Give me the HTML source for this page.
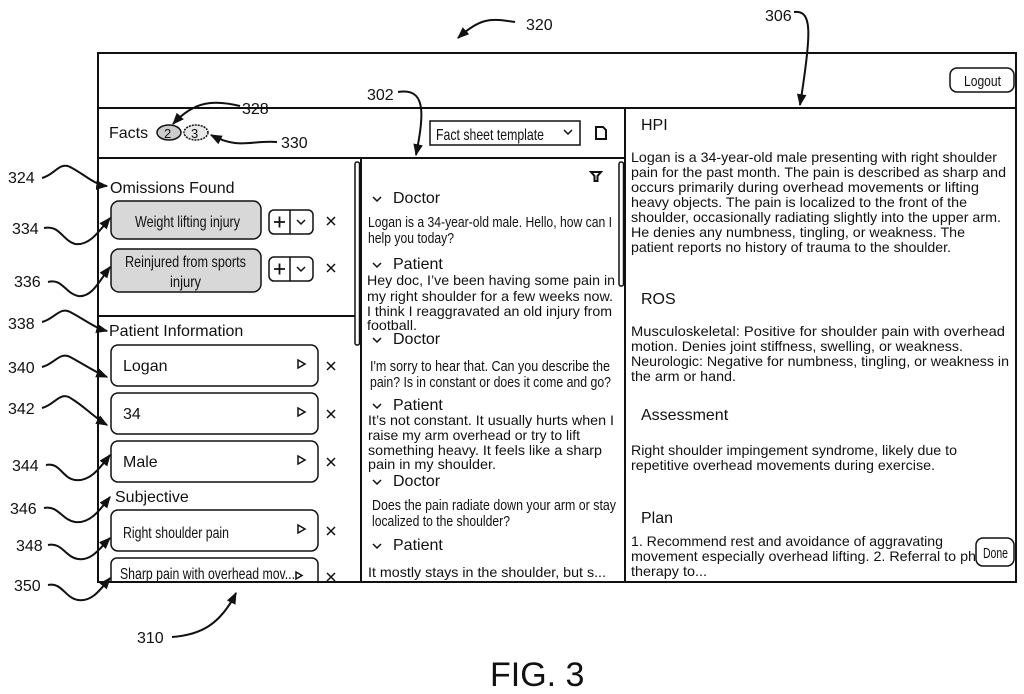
<!DOCTYPE html>
<html><head><meta charset="utf-8"><style>
html,body{margin:0;padding:0;background:#fff;width:1024px;height:694px;overflow:hidden}
svg{display:block}
text{font-family:"Liberation Sans",Arial,sans-serif;fill:#111}
.n{font-family:"Liberation Sans Narrow","Liberation Sans",sans-serif}
</style></head><body>
<svg width="1024" height="694" viewBox="0 0 1024 694" xmlns="http://www.w3.org/2000/svg">
<defs>
<marker id="a" viewBox="0 0 10 10" refX="9" refY="5" markerWidth="12" markerHeight="12" orient="auto-start-reverse" markerUnits="userSpaceOnUse"><path d="M0,1 L10,5 L0,9 z" fill="#111"/></marker>
</defs>
<g fill="none" stroke="#111" stroke-width="2">
<rect x="98" y="53" width="918" height="529"/>
<line x1="98" y1="108" x2="1016" y2="108"/>
<line x1="98" y1="158" x2="625" y2="158"/>
<line x1="625" y1="108" x2="625" y2="582"/>
<line x1="361" y1="158" x2="361" y2="582"/>
<line x1="98" y1="316" x2="355" y2="316"/>
<rect x="355" y="162" width="4.5" height="183" rx="2" stroke-width="1.5"/>
<rect x="619" y="162" width="4.5" height="124" rx="2" stroke-width="1.5"/>
<rect x="950" y="68" width="64" height="24" rx="7" stroke-width="1.5"/>
<rect x="976" y="538" width="38" height="28" rx="7" stroke-width="1.5" fill="#fff"/>
<rect x="430" y="121" width="150" height="24" stroke-width="1.5"/>
<path d="M564,130 l4,4 l4,-4" stroke-width="1.5"/>
<path d="M596,127 h7 l3,3 v9 h-10 z" stroke-width="2"/>
<path d="M591,172 h10 l-3.5,4 v5 h-3 v-5 z" stroke-width="2"/>
<ellipse cx="169" cy="132.5" rx="12" ry="7.5" fill="#ccc" stroke-width="1.5"/>
<ellipse cx="196" cy="132.5" rx="12" ry="7.5" fill="#e8e8e8" stroke-width="1.5" stroke-dasharray="2 1"/>
<rect x="111" y="201" width="150" height="38" rx="8" fill="#d8d8d8" stroke-width="1.5"/>
<rect x="111" y="249" width="150" height="43" rx="8" fill="#d8d8d8" stroke-width="1.5"/>
<rect x="269" y="210" width="44" height="24" rx="5" stroke-width="1.5"/>
<line x1="290" y1="210" x2="290" y2="234" stroke-width="1.5"/>
<rect x="269" y="257" width="44" height="24" rx="5" stroke-width="1.5"/>
<line x1="290" y1="257" x2="290" y2="281" stroke-width="1.5"/>
<path d="M274,222 h11 M279.5,216.5 v11 M274,269 h11 M279.5,263.5 v11" stroke-width="1.8"/>
<path d="M297,220 l4,4 l4,-4 M297,267 l4,4 l4,-4" stroke-width="1.5"/>
<rect x="111" y="345" width="207" height="41" rx="7" stroke-width="1.5"/>
<rect x="111" y="393" width="207" height="41" rx="7" stroke-width="1.5"/>
<rect x="111" y="441" width="207" height="41" rx="7" stroke-width="1.5"/>
<rect x="111" y="510" width="207" height="41" rx="7" stroke-width="1.5"/>
<path d="M111,582 v-18 a6,6 0 0 1 6,-6 h195 a6,6 0 0 1 6,6 v18" stroke-width="1.5"/>
<path d="M298,360 l7,4 l-7,4 z M298,408 l7,4 l-7,4 z M298,456 l7,4 l-7,4 z M298,525 l7,4 l-7,4 z M296,572 l6,3.5 l-6,3.5 z" stroke-width="1.5"/>
<path d="M327,217 l8,8 M335,217 l-8,8 M327,264 l8,8 M335,264 l-8,8 M327,362 l8,8 M335,362 l-8,8 M327,410 l8,8 M335,410 l-8,8 M327,458 l8,8 M335,458 l-8,8 M327,527 l8,8 M335,527 l-8,8 M327,573 l8,8 M335,573 l-8,8" stroke-width="1.5"/>
<g stroke-width="1.5">
<path d="M373,197 l4,4 l4,-4 M373,263 l4,4 l4,-4 M373,338 l4,4 l4,-4 M373,404 l4,4 l4,-4 M373,480 l4,4 l4,-4 M373,544 l4,4 l4,-4"/>
</g>
<path d="M515,22 C490,18 480,18 458,38" marker-end="url(#a)"/>
<path d="M794,12 C812,10 812,30 800,105" marker-end="url(#a)"/>
<path d="M398,92 C425,88 425,110 416,155" marker-end="url(#a)"/>
<path d="M240,106 C215,100 195,100 173,124" marker-end="url(#a)"/>
<line x1="268" y1="108" x2="625" y2="108"/>
<path d="M277,142 C250,140 240,150 211,135" marker-end="url(#a)"/>
<path d="M42,178 C55,175 60,160 72,168 C85,175 95,185 107,186" marker-end="url(#a)"/>
<path d="M44,228 C60,225 62,240 75,244 C90,246 100,230 110,218" marker-end="url(#a)"/>
<path d="M48,282 C62,278 65,293 78,296 C92,298 100,280 110,267" marker-end="url(#a)"/>
<path d="M42,322 C55,319 60,305 72,313 C85,320 95,328 107,331" marker-end="url(#a)"/>
<path d="M42,367 C55,364 60,350 72,358 C85,365 95,372 107,377" marker-end="url(#a)"/>
<path d="M42,408 C55,405 60,390 72,399 C85,407 95,418 107,425" marker-end="url(#a)"/>
<path d="M46,465 C60,462 62,478 75,480 C90,482 100,468 110,455" marker-end="url(#a)"/>
<path d="M44,508 C58,505 62,520 75,522 C90,524 100,510 110,497" marker-end="url(#a)"/>
<path d="M48,545 C62,542 65,557 78,559 C92,561 100,548 110,538" marker-end="url(#a)"/>
<path d="M48,585 C62,582 65,598 78,600 C92,602 100,590 110,578" marker-end="url(#a)"/>
<path d="M172,637 C200,635 220,625 236,593" marker-end="url(#a)"/>
</g>

<g font-size="16">
<text x="526" y="30">320</text>
<text x="765" y="21">306</text>
<text x="367" y="100">302</text>
<text x="242" y="114">328</text>
<text x="281" y="148">330</text>
<text x="8" y="183">324</text>
<text x="12" y="234">334</text>
<text x="14" y="287">336</text>
<text x="8" y="329">338</text>
<text x="8" y="373">340</text>
<text x="8" y="414">342</text>
<text x="12" y="471">344</text>
<text x="10" y="514">346</text>
<text x="16" y="551">348</text>
<text x="14" y="591">350</text>
<text x="137" y="643">310</text>
</g>
<text x="490" y="686" font-size="34">FIG. 3</text>

<text x="109" y="138" font-size="16">Facts</text>
<text x="164" y="138" font-size="13">2</text>
<text x="191" y="138" font-size="13">3</text>
<text x="110" y="193" font-size="16">Omissions Found</text>
<text class="n" x="135" y="227" font-size="16" textLength="105" lengthAdjust="spacingAndGlyphs">Weight lifting injury</text>
<text class="n" x="125" y="267" font-size="16" textLength="121" lengthAdjust="spacingAndGlyphs">Reinjured from sports</text>
<text class="n" x="170" y="287" font-size="16" textLength="31" lengthAdjust="spacingAndGlyphs">injury</text>
<text x="109" y="336" font-size="16">Patient Information</text>
<text x="123" y="371" font-size="16">Logan</text>
<text x="123" y="419" font-size="16">34</text>
<text x="123" y="467" font-size="16">Male</text>
<text x="115" y="502" font-size="16">Subjective</text>
<text class="n" x="123" y="538" font-size="16" textLength="106" lengthAdjust="spacingAndGlyphs">Right shoulder pain</text>
<text class="n" x="120" y="579" font-size="16" textLength="175" lengthAdjust="spacingAndGlyphs">Sharp pain with overhead mov...</text>
<text class="n" x="436" y="140" font-size="16" textLength="108" lengthAdjust="spacingAndGlyphs">Fact sheet template</text>
<text class="n" x="964" y="86" font-size="15" textLength="37" lengthAdjust="spacingAndGlyphs">Logout</text>
<text class="n" x="983" y="558" font-size="15" textLength="25" lengthAdjust="spacingAndGlyphs">Done</text>

<g font-size="16">
<text x="393" y="203">Doctor</text>
<text x="393" y="269">Patient</text>
<text x="393" y="344">Doctor</text>
<text x="393" y="410">Patient</text>
<text x="393" y="486">Doctor</text>
<text x="393" y="550">Patient</text>
</g>
<g font-size="15">
<text class="n" x="368" y="227" textLength="244" lengthAdjust="spacingAndGlyphs">Logan is a 34-year-old male. Hello, how can I</text>
<text class="n" x="368" y="243" textLength="86" lengthAdjust="spacingAndGlyphs">help you today?</text>
<text class="n" x="370" y="371" textLength="240" lengthAdjust="spacingAndGlyphs">I'm sorry to hear that. Can you describe the</text>
<text class="n" x="370" y="387" textLength="241" lengthAdjust="spacingAndGlyphs">pain? Is in constant or does it come and go?</text>
<text class="n" x="372" y="510" textLength="244" lengthAdjust="spacingAndGlyphs">Does the pain radiate down your arm or stay</text>
<text class="n" x="372" y="526" textLength="138" lengthAdjust="spacingAndGlyphs">localized to the shoulder?</text>
</g>
<g font-size="14">
<text x="367" y="285" textLength="248" lengthAdjust="spacingAndGlyphs">Hey doc, I’ve been having some pain in</text>
<text x="367" y="301" textLength="246" lengthAdjust="spacingAndGlyphs">my right shoulder for a few weeks now.</text>
<text x="367" y="316" textLength="245" lengthAdjust="spacingAndGlyphs">I think I reaggravated an old injury from</text>
<text x="367" y="330" textLength="50" lengthAdjust="spacingAndGlyphs">football.</text>
<text x="368" y="425" textLength="246" lengthAdjust="spacingAndGlyphs">It’s not constant. It usually hurts when I</text>
<text x="368" y="440" textLength="212" lengthAdjust="spacingAndGlyphs">raise my arm overhead or try to lift</text>
<text x="368" y="455" textLength="234" lengthAdjust="spacingAndGlyphs">something heavy. It feels like a sharp</text>
<text x="368" y="469" textLength="128" lengthAdjust="spacingAndGlyphs">pain in my shoulder.</text>
<text x="368" y="577" textLength="238" lengthAdjust="spacingAndGlyphs">It mostly stays in the shoulder, but s...</text>
</g>

<g font-size="16">
<text x="641" y="130">HPI</text>
<text x="641" y="304">ROS</text>
<text x="641" y="420">Assessment</text>
<text x="641" y="523">Plan</text>
</g>
<g font-size="14">
<text x="631" y="162" textLength="366" lengthAdjust="spacingAndGlyphs">Logan is a 34-year-old male presenting with right shoulder</text>
<text x="631" y="177" textLength="375" lengthAdjust="spacingAndGlyphs">pain for the past month. The pain is described as sharp and</text>
<text x="631" y="192" textLength="348" lengthAdjust="spacingAndGlyphs">occurs primarily during overhead movements or lifting</text>
<text x="631" y="207" textLength="336" lengthAdjust="spacingAndGlyphs">heavy objects. The pain is localized to the front of the</text>
<text x="631" y="222" textLength="370" lengthAdjust="spacingAndGlyphs">shoulder, occasionally radiating slightly into the upper arm.</text>
<text x="631" y="237" textLength="334" lengthAdjust="spacingAndGlyphs">He denies any numbness, tingling, or weakness. The</text>
<text x="631" y="252" textLength="320" lengthAdjust="spacingAndGlyphs">patient reports no history of trauma to the shoulder.</text>
<text x="631" y="336" textLength="374" lengthAdjust="spacingAndGlyphs">Musculoskeletal: Positive for shoulder pain with overhead</text>
<text x="631" y="351" textLength="332" lengthAdjust="spacingAndGlyphs">motion. Denies joint stiffness, swelling, or weakness.</text>
<text x="631" y="366" textLength="378" lengthAdjust="spacingAndGlyphs">Neurologic: Negative for numbness, tingling, or weakness in</text>
<text x="631" y="381" textLength="105" lengthAdjust="spacingAndGlyphs">the arm or hand.</text>
<text x="631" y="455" textLength="326" lengthAdjust="spacingAndGlyphs">Right shoulder impingement syndrome, likely due to</text>
<text x="631" y="470" textLength="304" lengthAdjust="spacingAndGlyphs">repetitive overhead movements during exercise.</text>
<text x="631" y="546" textLength="312" lengthAdjust="spacingAndGlyphs">1. Recommend rest and avoidance of aggravating</text>
<text x="631" y="561" textLength="345" lengthAdjust="spacingAndGlyphs">movement especially overhead lifting. 2. Referral to ph</text>
<text x="631" y="576" textLength="76" lengthAdjust="spacingAndGlyphs">therapy to...</text>
</g>
</svg>
</body></html>
